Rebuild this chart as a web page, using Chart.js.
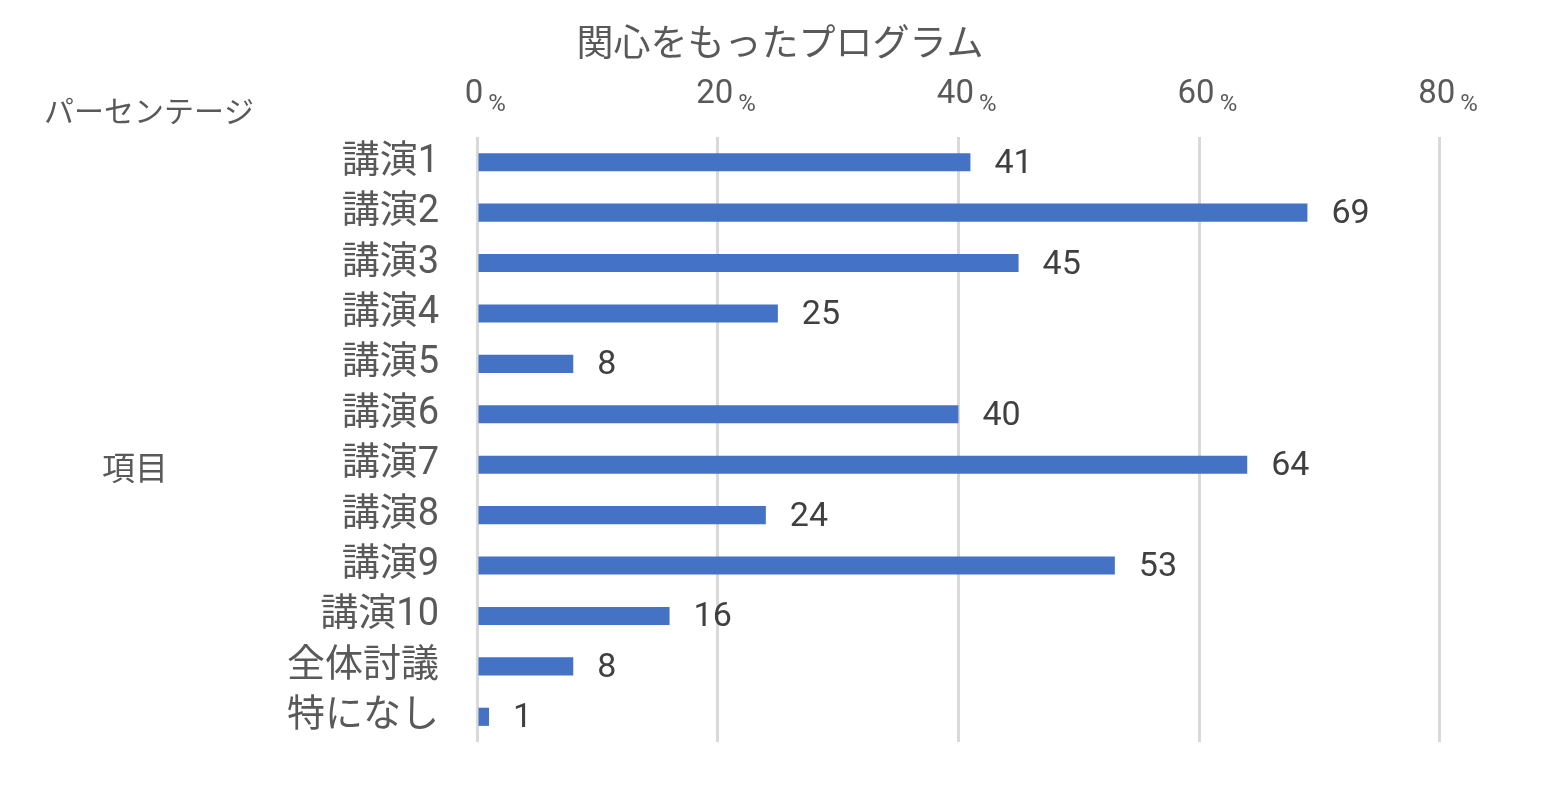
<!DOCTYPE html>
<html>
<head>
<meta charset="utf-8">
<script src="https://cdn.jsdelivr.net/npm/chart.js@4/dist/chart.umd.min.js"></script>
<style>
  html, body { margin: 0; padding: 0; background: #fff; }
  #wrap { width: 1568px; height: 803px; }
</style>
</head>
<body>
<div id="wrap"><canvas id="myChart"></canvas></div>
<script>
let categories = ["講演1", "講演2", "講演3", "講演4", "講演5", "講演6", "講演7", "講演8", "講演9", "講演10", "全体討議", "特になし"];
let percents = [41, 69, 45, 25, 8, 40, 64, 24, 53, 16, 8, 1];
let tickValues = [0, 20, 40, 60, 80];
let tickUnit = "%";
let chartTitle = "関心をもったプログラム";
let xTitle = "パーセンテージ";
let yTitle = "項目";

const textColor = "#595959";
const numFont = '"Roboto", "Noto Sans CJK JP", sans-serif';
const jpFont = '"Roboto", "Noto Sans CJK JP", sans-serif';

// title, axis titles, top tick labels with small "%", value labels
const extraText = {
  id: "extraText",
  afterDraw(chart) {
    const ctx = chart.ctx;
    const x = chart.scales.x;
    ctx.save();
    ctx.fillStyle = textColor;

    ctx.textAlign = "center";
    ctx.textBaseline = "middle";
    ctx.font = '37px "Noto Sans CJK JP", sans-serif';
    ctx.fillText(chartTitle, 780, 42);

    ctx.textAlign = "left";
    ctx.font = '30px "Noto Sans CJK JP", sans-serif';
    ctx.fillText(xTitle, 44, 111);
    ctx.font = '33px "Noto Sans CJK JP", sans-serif';
    ctx.fillText(yTitle, 102, 467);

    tickValues.forEach(v => {
      const px = x.getPixelForValue(v);
      ctx.textBaseline = "alphabetic";
      ctx.textAlign = "center";
      ctx.font = "33px " + numFont;
      ctx.fillText(String(v), px - 3, 103);
      const w = ctx.measureText(String(v)).width;
      ctx.textAlign = "left";
      ctx.font = "24px " + numFont;
      ctx.fillText(tickUnit, px - 3 + w / 2 + 5, 111);
    });

    const meta = chart.getDatasetMeta(0);
    ctx.font = "34px " + numFont;
    ctx.textAlign = "left";
    ctx.textBaseline = "middle";
    meta.data.forEach((bar, i) => {
      ctx.fillStyle = "#404040";
      ctx.fillText(String(percents[i]), bar.x + 24, bar.y + 2);
    });
    ctx.restore();
  }
};

new Chart(document.getElementById("myChart"), {
  type: "bar",
  data: {
    labels: categories,
    datasets: [{
      data: percents,
      backgroundColor: "#4472C4",
      borderWidth: 0,
      categoryPercentage: 1,
      barPercentage: 0.36
    }]
  },
  options: {
    indexAxis: "y",
    responsive: true,
    maintainAspectRatio: false,
    animation: false,
    layout: { padding: { top: 137, bottom: 61, right: 56, left: 0 } },
    plugins: {
      legend: { display: false },
      title: { display: false },
      tooltip: { enabled: false }
    },
    scales: {
      x: {
        position: "top",
        min: 0,
        max: 86,
        ticks: { display: false, stepSize: 20, includeBounds: false },
        grid: { color: "#d9d9d9", lineWidth: 3, drawTicks: false },
        border: { display: false },
        afterFit(s) { s.height = 0; }
      },
      y: {
        ticks: {
          color: textColor,
          font: { size: 38, family: jpFont },
          padding: 38,
          autoSkip: false
        },
        grid: { display: false, drawTicks: false },
        border: { display: false },
        afterFit(s) { s.width = 477; }
      }
    }
  },
  plugins: [extraText]
});
</script>
</body>
</html>
